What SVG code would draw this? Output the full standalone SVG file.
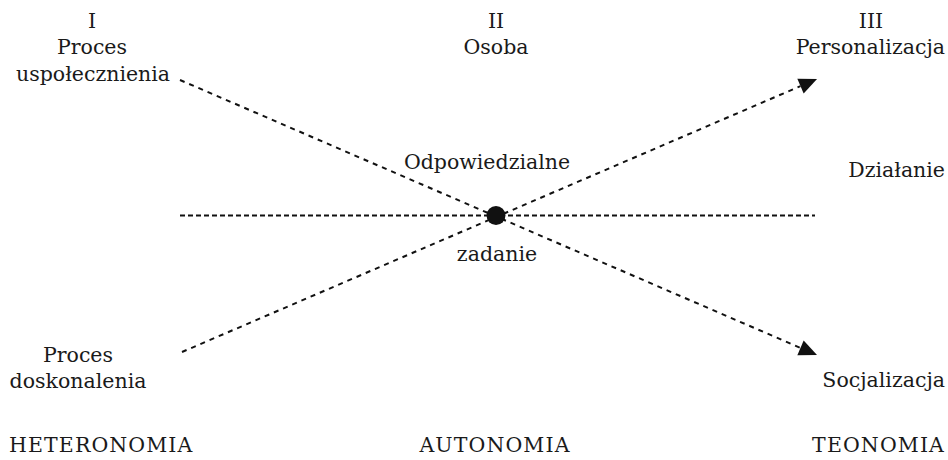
<svg xmlns="http://www.w3.org/2000/svg" width="948" height="460" viewBox="0 0 948 460">
<style>
text{font-family:"DejaVu Serif",serif;font-size:20.5px;fill:#1a1a1a}
.m{text-anchor:middle}
.e{text-anchor:end}
.c{letter-spacing:1.1px}
.d{fill:none;stroke:#111;stroke-width:2;stroke-dasharray:5 5}
.h{fill:none;stroke:#111;stroke-width:2;stroke-dasharray:5 3}
</style>
<defs>
<marker id="ar" viewBox="0 -8 18 16" refX="0" refY="0" markerWidth="18" markerHeight="16" markerUnits="userSpaceOnUse" orient="auto" overflow="visible">
<path d="M0,-8 L18,0 L0,8 Z" fill="#111"/>
</marker>
</defs>
<g id="connectors">
<line class="h" x1="180" y1="215.5" x2="815" y2="215.5"/>
<line class="d" x1="180" y1="80" x2="800.5" y2="347.9" marker-end="url(#ar)"/>
<line class="d" x1="182" y1="352" x2="800.5" y2="86.1" marker-end="url(#ar)"/>
</g>
<g id="center"><circle cx="496" cy="215.5" r="9.5" fill="#111"/></g>
<g id="n1"><text class="m" x="92" y="28">I</text><text class="m" x="92" y="54">Proces</text><text class="m" x="93" y="81">uspołecznienia</text></g>
<g id="n2"><text class="m" x="496" y="28">II</text><text class="m" x="496" y="54">Osoba</text></g>
<g id="n3"><text class="m" x="871" y="28">III</text><text class="e" x="945" y="54">Personalizacja</text></g>
<g id="n4"><text class="m" x="487" y="169">Odpowiedzialne</text></g>
<g id="n5"><text class="m" x="497" y="261">zadanie</text></g>
<g id="n6"><text class="e" x="945" y="177">Działanie</text></g>
<g id="n7"><text class="m" x="78" y="362">Proces</text><text class="m" x="78" y="388">doskonalenia</text></g>
<g id="n8"><text class="e" x="945" y="387">Socjalizacja</text></g>
<g id="n9"><text class="c" x="9" y="452">HETERONOMIA</text></g>
<g id="n10"><text class="m c" x="495" y="452">AUTONOMIA</text></g>
<g id="n11"><text class="e c" x="945" y="452">TEONOMIA</text></g>
</svg>
